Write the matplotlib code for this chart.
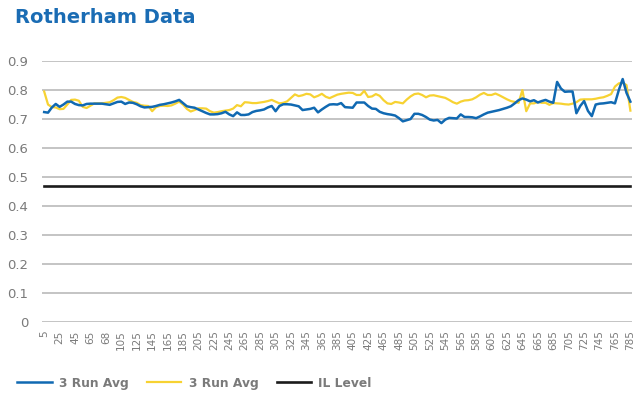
import numpy as np
import matplotlib
matplotlib.use("Agg")
import matplotlib.pyplot as plt

# run numbers shown on the x axis (one label every 4th point)
tick_runs = [5, 25, 45, 65, 68, 105, 125, 145, 165, 185, 205, 225, 245, 265,
             285, 305, 325, 345, 365, 385, 405, 425, 465, 485, 505, 525, 545,
             565, 585, 605, 625, 645, 665, 685, 705, 725, 745, 765, 785]

# 3 run average, blue series
blue_avg = [
    0.724, 0.722, 0.740, 0.752, 0.742, 0.750, 0.760, 0.760, 0.752, 0.748,
    0.747, 0.752, 0.753, 0.753, 0.753, 0.753, 0.751, 0.749, 0.754, 0.759,
    0.760, 0.752, 0.757, 0.756, 0.751, 0.744, 0.740, 0.741, 0.742, 0.745,
    0.749, 0.751, 0.754, 0.757, 0.761, 0.766, 0.755, 0.744, 0.741, 0.739,
    0.733, 0.727, 0.721, 0.716, 0.716, 0.717, 0.720, 0.725, 0.716, 0.710,
    0.723, 0.714, 0.714, 0.716, 0.724, 0.728, 0.730, 0.733, 0.740, 0.745,
    0.727, 0.745, 0.751, 0.751, 0.750, 0.747, 0.744, 0.731, 0.733, 0.735,
    0.739, 0.723, 0.733, 0.742, 0.750, 0.751, 0.750, 0.755, 0.741, 0.740,
    0.739, 0.757, 0.757, 0.757, 0.745, 0.736, 0.735, 0.725, 0.720, 0.717,
    0.715, 0.712, 0.703, 0.692, 0.696, 0.700, 0.718, 0.718, 0.714, 0.707,
    0.698, 0.695, 0.697, 0.686, 0.698, 0.704, 0.703, 0.702, 0.716, 0.707,
    0.707, 0.706, 0.703, 0.709, 0.716, 0.722, 0.725, 0.728, 0.731, 0.735,
    0.739, 0.744, 0.754, 0.765, 0.771, 0.767, 0.761, 0.765, 0.757, 0.762,
    0.766, 0.760, 0.756, 0.828, 0.805, 0.794, 0.795, 0.795, 0.720, 0.745,
    0.762, 0.728, 0.710, 0.750, 0.753, 0.754, 0.756, 0.758, 0.754, 0.800,
    0.838, 0.790, 0.760]

# 3 run average, yellow series
yellow_avg = [
    0.795, 0.750, 0.741, 0.740, 0.734, 0.735, 0.750, 0.766, 0.767, 0.763,
    0.742, 0.738, 0.746, 0.754, 0.754, 0.754, 0.756, 0.758, 0.765, 0.774,
    0.776, 0.773, 0.766, 0.759, 0.756, 0.748, 0.746, 0.745, 0.727, 0.741,
    0.745, 0.746, 0.745, 0.747, 0.753, 0.760, 0.750, 0.735, 0.726, 0.731,
    0.737, 0.737, 0.736, 0.727, 0.722, 0.724, 0.727, 0.729, 0.731, 0.736,
    0.748, 0.744, 0.758, 0.757, 0.755, 0.755, 0.757, 0.759, 0.762, 0.766,
    0.760, 0.754, 0.756, 0.761, 0.773, 0.785, 0.779, 0.782, 0.787, 0.785,
    0.775, 0.780, 0.787, 0.777, 0.772, 0.778, 0.784, 0.787, 0.789, 0.791,
    0.790, 0.783, 0.783, 0.797, 0.776, 0.778, 0.786, 0.780, 0.765, 0.754,
    0.752, 0.759, 0.757, 0.754, 0.767, 0.778, 0.786, 0.788, 0.783, 0.775,
    0.781, 0.782, 0.779, 0.776, 0.773, 0.766, 0.758, 0.753, 0.760, 0.764,
    0.765, 0.768, 0.775, 0.784, 0.790, 0.783, 0.783, 0.788, 0.782, 0.775,
    0.768, 0.762, 0.759, 0.756, 0.800, 0.727, 0.754, 0.754, 0.759, 0.756,
    0.756, 0.749, 0.755, 0.754, 0.753, 0.751, 0.750, 0.753, 0.758, 0.767,
    0.768, 0.768, 0.768, 0.770, 0.773, 0.775, 0.780, 0.786, 0.812, 0.823,
    0.825, 0.817, 0.729]

il_value = 0.47
il_level = [il_value] * len(blue_avg)

y_ticks = [0, 0.1, 0.2, 0.3, 0.4, 0.5, 0.6, 0.7, 0.8, 0.9]

BLUE = "#1069b2"
YELLOW = "#f7d232"
GREY_TXT = "#7a7a7a"

fig = plt.figure(figsize=(6.4, 3.99), dpi=100)
ax = fig.add_axes([0.066, 0.193, 0.922, 0.654])

x = np.arange(len(blue_avg))
ax.plot(x, il_level, color="#1b1b1b", lw=1.9, label="IL Level", zorder=3)
ax.plot(x, yellow_avg, color=YELLOW, lw=1.6, label="3 Run Avg", zorder=4)
ax.plot(x, blue_avg, color=BLUE, lw=1.8, label="3 Run Avg", zorder=5)

ax.set_ylim(0, 0.9)
ax.set_xlim(-0.5, len(blue_avg) - 0.5)
ax.set_yticks(y_ticks)
ax.set_yticklabels([f"{v:g}" for v in y_ticks])
ax.yaxis.grid(True, color="#b4b4b4", lw=1.1)
ax.set_axisbelow(True)
for s in ax.spines.values():
    s.set_visible(False)
ax.tick_params(axis="y", length=0, labelsize=9.5, colors=GREY_TXT, pad=10)

tick_pos = np.arange(len(tick_runs)) * 4
ax.set_xticks(tick_pos)
ax.set_xticklabels([str(r) for r in tick_runs], rotation=90)
ax.tick_params(axis="x", length=0, labelsize=7.5, colors=GREY_TXT, pad=6)

fig.text(0.023, 0.955, "Rotherham Data", fontsize=14, fontweight="bold",
         color="#1a6cb4", va="center", ha="left", family="DejaVu Sans")

h, l = ax.get_legend_handles_labels()
order = [2, 1, 0]
leg = fig.legend([h[i] for i in order], [l[i] for i in order],
                 loc="center left", bbox_to_anchor=(0.01, 0.04), ncol=3,
                 frameon=False, fontsize=8.8, handlelength=2.8,
                 columnspacing=1.5, handletextpad=0.6)
for t in leg.get_texts():
    t.set_color(GREY_TXT)
    t.set_fontweight("bold")

fig.savefig("out.png", dpi=100)
